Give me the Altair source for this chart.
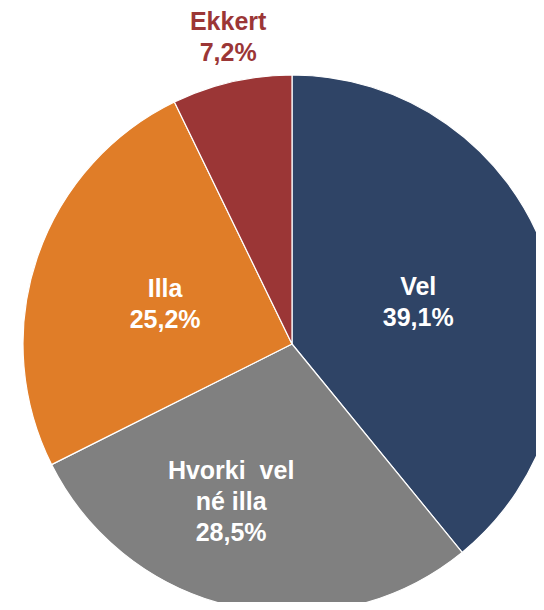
import altair as alt
import pandas as pd

categories = ["Vel", "Hvorki \u00a0vel\nné illa", "Illa", "Ekkert"]
values = [39.1, 28.5, 25.2, 7.2]
colors = ["#2F4466", "#808080", "#E07D28", "#9B3636"]

df = pd.DataFrame({
    "cat": categories,
    "v": values,
    "idx": list(range(len(categories))),
})

CX, CY = 284, 336

base = alt.Chart(df).encode(
    theta=alt.Theta("v:Q", stack=True),
    order=alt.Order("idx:Q"),
    x=alt.value(CX),
    y=alt.value(CY),
)

pie = base.mark_arc(radius=269, stroke="white", strokeWidth=1.2).encode(
    color=alt.Color("cat:N", scale=alt.Scale(domain=categories, range=colors), legend=None)
)

lab = "datum.cat + '\\n' + replace(format(datum.v, '.1f'), '.', ',') + '%'"

txt_style = dict(font="Liberation Sans", fontSize=25, fontWeight="bold",
                 lineBreak="\n", lineHeight=31, align="center", baseline="middle")

inner = base.transform_calculate(
    t=f"(datum.cat == 'Vel' || datum.cat == 'Illa') ? {lab} : ''"
).mark_text(radius=134, color="white", dy=-12, **txt_style).encode(text="t:N")

mid = base.transform_calculate(
    t=f"indexof(datum.cat, 'Hvorki') == 0 ? {lab} : ''"
).mark_text(radius=167, color="white", dx=-26, dy=-36, **txt_style).encode(text="t:N")

outer = base.transform_calculate(
    t=f"datum.cat == 'Ekkert' ? {lab} : ''"
).mark_text(radius=316, color="#9B3636", dx=7, dy=-14, **txt_style).encode(text="t:N")

chart = alt.layer(pie, inner, mid, outer).properties(
    width=528, height=594, autosize="none", padding=0
).configure_view(stroke=None)

chart.save("out.html", embed_options={"renderer": "svg", "actions": False})
